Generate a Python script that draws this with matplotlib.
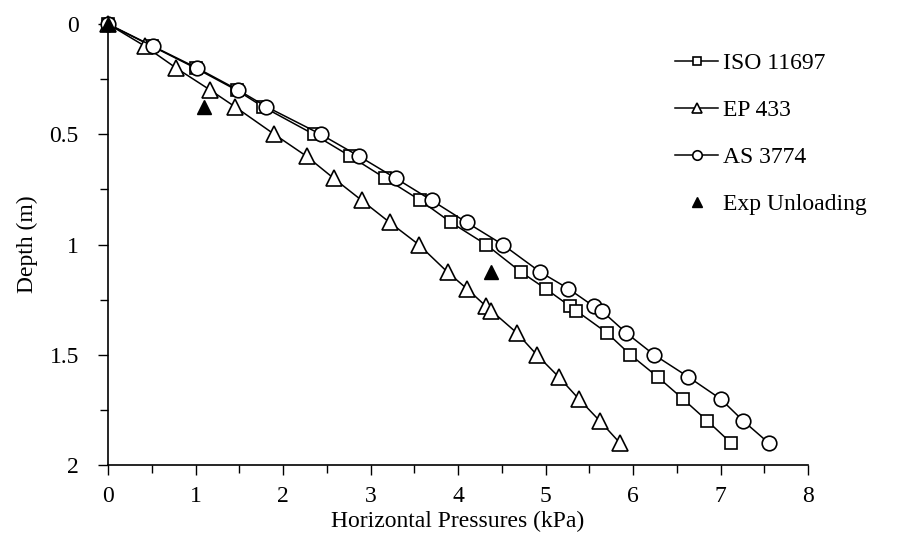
import matplotlib
matplotlib.use("Agg")
import matplotlib.pyplot as plt
from matplotlib.ticker import MultipleLocator

plt.rcParams["font.family"] = ["Liberation Serif", "DejaVu Serif"]

# depths (m) shared by the three code curves
depth = [0, 0.1, 0.2, 0.3, 0.375, 0.5, 0.6, 0.7, 0.8, 0.9, 1.0, 1.125,
         1.2, 1.28, 1.3, 1.4, 1.5, 1.6, 1.7, 1.8, 1.9]
iso_11697 = [0, 0.50, 1.00, 1.47, 1.77, 2.35, 2.77, 3.17, 3.57, 3.92, 4.32,
             4.72, 5.00, 5.28, 5.35, 5.70, 5.97, 6.28, 6.57, 6.85, 7.12]
ep_433 = [0, 0.42, 0.78, 1.17, 1.45, 1.90, 2.27, 2.58, 2.90, 3.22, 3.55,
          3.88, 4.10, 4.32, 4.38, 4.67, 4.90, 5.15, 5.38, 5.62, 5.85]
as_3774 = [0, 0.51, 1.02, 1.49, 1.81, 2.43, 2.87, 3.29, 3.70, 4.10, 4.51,
           4.94, 5.26, 5.55, 5.64, 5.92, 6.24, 6.63, 7.00, 7.26, 7.55]

exp_depth = [0, 0.375, 1.125]
exp_unloading = [0, 1.10, 4.38]

fig = plt.figure(figsize=(9.17, 5.51), dpi=100)
ax = fig.add_axes([0.1178, 0.156, 0.7634, 0.8004])

kw = dict(color="black", lw=1.1, mfc="white", mec="black", mew=1.2,
          clip_on=False)
ax.plot(iso_11697, depth, marker="s", ms=9, label="ISO 11697", **kw)
ax.plot(ep_433, depth, marker="^", ms=11.5, label="EP 433", **kw)
ax.plot(as_3774, depth, marker="o", ms=10.5, label="AS 3774", **kw)
ax.plot(exp_unloading, exp_depth, ls="none", marker="^", ms=10,
        color="black", label="Exp Unloading", clip_on=False)

ax.set_xlim(0, 8)
ax.set_ylim(2, 0)
ax.xaxis.set_major_locator(MultipleLocator(1))
ax.xaxis.set_minor_locator(MultipleLocator(0.5))
ax.yaxis.set_major_locator(MultipleLocator(0.5))
ax.yaxis.set_minor_locator(MultipleLocator(0.25))
ax.yaxis.set_major_formatter(plt.FuncFormatter(lambda v, p: f"{v:g}"))
ax.tick_params(which="both", direction="out", width=1, labelsize=17,
               color="black")
ax.tick_params(which="major", length=7)
ax.tick_params(which="minor", length=6)
ax.tick_params(axis="y", which="major", pad=14)
ax.tick_params(axis="x", which="major", pad=8)
for s in ("top", "right"):
    ax.spines[s].set_visible(False)
for s in ("left", "bottom"):
    ax.spines[s].set_linewidth(1.2)

ax.set_xlabel("Horizontal Pressures (kPa)", fontsize=17, labelpad=3)
ax.set_ylabel("Depth (m)", fontsize=17, labelpad=8)

leg = ax.legend(loc="upper left", bbox_to_anchor=(0.78, 0.983), frameon=False,
                fontsize=17, handlelength=1.82, handletextpad=0.2,
                labelspacing=1.08, markerscale=0.65)

fig.savefig("out.png", dpi=100)
